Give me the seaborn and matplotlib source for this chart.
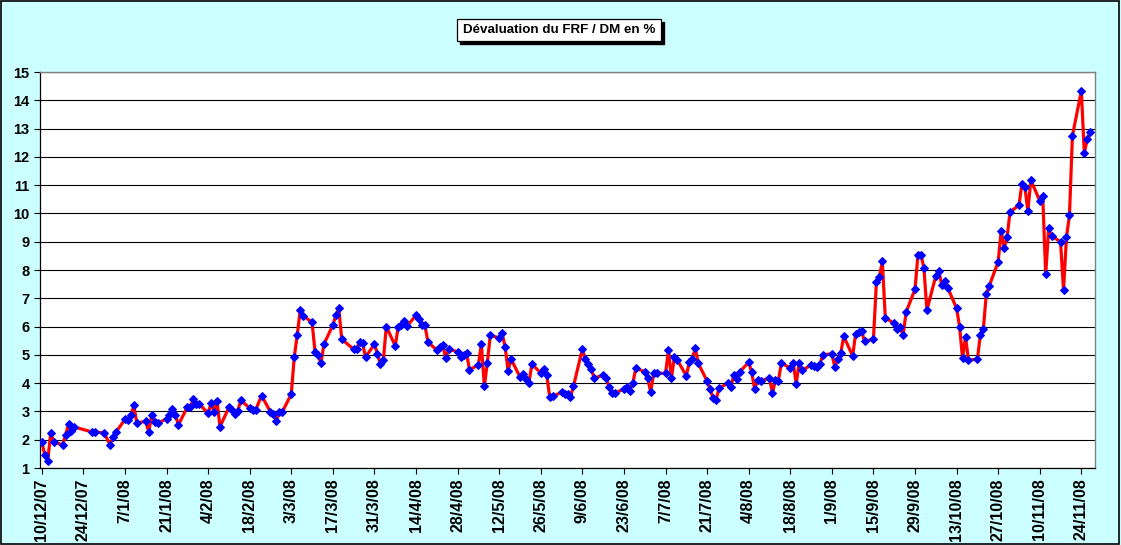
import matplotlib
matplotlib.use("Agg")
import numpy as np
import pandas as pd
import matplotlib.pyplot as plt
import seaborn as sns

start = pd.Timestamp("2007-12-10")

# days after 10/12/07 at which a quote was taken
day_offsets = [
    0, 1, 2, 3, 4, 7, 8, 9, 10, 11, 17, 18, 21, 23, 24, 25, 28, 29, 30, 31,
    32, 35, 36, 37, 38, 39, 42, 43, 44, 45, 46, 49, 50, 51, 52, 53, 56, 57, 58, 59,
    60, 63, 64, 65, 66, 67, 70, 71, 72, 74, 77, 78, 79, 80, 81, 84, 85, 86, 87, 88,
    91, 92, 93, 94, 95, 98, 99, 100, 101, 105, 106, 107, 108, 109, 112, 113, 114, 115, 116, 119,
    120, 121, 122, 123, 126, 127, 128, 129, 130, 133, 134, 135, 136, 137, 140, 141, 142, 143, 144, 147,
    148, 149, 150, 151, 154, 155, 156, 157, 158, 161, 162, 163, 164, 165, 168, 169, 170, 171, 172, 175,
    176, 177, 178, 179, 182, 183, 184, 185, 186, 189, 190, 191, 192, 193, 196, 197, 198, 199, 200, 203,
    204, 205, 206, 207, 210, 211, 212, 213, 214, 217, 218, 219, 220, 221, 224, 225, 226, 227, 228, 231,
    232, 233, 234, 235, 238, 239, 240, 241, 242, 245, 246, 247, 248, 249, 252, 253, 254, 255, 256, 259,
    260, 261, 262, 263, 266, 267, 268, 269, 270, 273, 274, 275, 276, 277, 280, 281, 282, 283, 284, 287,
    288, 289, 290, 291, 294, 295, 296, 297, 298, 301, 302, 303, 304, 305, 308, 309, 310, 311, 312, 315,
    316, 317, 318, 319, 322, 323, 324, 325, 326, 329, 330, 331, 332, 333, 336, 337, 338, 339, 340, 343,
    344, 345, 346, 347, 350, 351, 352, 353,
]

devaluation = [
    1.92, 1.47, 1.24, 2.24, 1.92, 1.82, 2.16, 2.55, 2.31, 2.45, 2.27, 2.27, 2.24, 1.82, 2.09, 2.27, 2.72, 2.69, 2.87, 3.21,
    2.59, 2.65, 2.28, 2.87, 2.62, 2.59, 2.73, 2.87, 3.08, 2.87, 2.53, 3.15, 3.15, 3.44, 3.28, 3.26, 2.94, 3.29, 2.98, 3.36,
    2.46, 3.14, 3.05, 2.92, 3.02, 3.39, 3.12, 3.05, 3.05, 3.56, 2.98, 2.91, 2.66, 2.99, 2.99, 3.61, 4.92, 5.69, 6.58, 6.38,
    6.15, 5.11, 4.98, 4.71, 5.38, 6.05, 6.40, 6.64, 5.55, 5.20, 5.20, 5.47, 5.41, 4.92, 5.38, 5.04, 4.67, 4.82, 6.00, 5.32,
    5.98, 6.06, 6.18, 6.02, 6.40, 6.26, 6.04, 6.04, 5.46, 5.16, 5.27, 5.35, 4.88, 5.20, 5.11, 4.92, 5.00, 5.08, 4.47, 4.65,
    5.38, 3.89, 4.71, 5.69, 5.60, 5.76, 5.28, 4.44, 4.85, 4.22, 4.32, 4.13, 4.00, 4.67, 4.36, 4.49, 4.29, 3.52, 3.54, 3.67,
    3.60, 3.62, 3.52, 3.89, 5.20, 4.85, 4.68, 4.49, 4.18, 4.28, 4.19, 3.86, 3.65, 3.65, 3.79, 3.86, 3.72, 4.00, 4.53, 4.40,
    4.18, 3.68, 4.35, 4.35, 4.35, 5.16, 4.18, 4.94, 4.81, 4.26, 4.74, 4.85, 5.24, 4.71, 4.07, 3.79, 3.48, 3.40, 3.82, 4.00,
    3.88, 4.28, 4.14, 4.40, 4.74, 4.39, 3.79, 4.11, 4.08, 4.18, 3.65, 4.11, 4.09, 4.71, 4.53, 4.71, 3.98, 4.71, 4.45, 4.64,
    4.59, 4.56, 4.68, 5.00, 5.04, 4.58, 4.86, 5.06, 5.66, 4.96, 5.73, 5.80, 5.85, 5.48, 5.55, 7.57, 7.75, 8.31, 6.31, 6.11,
    5.93, 5.98, 5.70, 6.51, 7.32, 8.54, 8.54, 8.07, 6.58, 7.79, 7.98, 7.46, 7.60, 7.38, 6.64, 6.00, 4.88, 5.64, 4.81, 4.85,
    5.70, 5.91, 7.15, 7.44, 8.29, 9.38, 8.77, 9.16, 10.05, 10.29, 11.04, 10.93, 10.08, 11.18, 10.45, 10.61, 7.85, 9.47, 9.21, 8.99,
    7.29, 9.16, 9.94, 12.75, 14.33, 12.13, 12.63, 12.89,
]

title = "Dévaluation du FRF / DM en %"
y_ticks = list(range(1, 16))
x_ticks = pd.date_range(start, "2008-11-24", freq="14D")
x_ticklabels = [f"{d.day}/{d.month}/{d.strftime('%y')}" for d in x_ticks]

df = pd.DataFrame({
    "date": start + pd.to_timedelta(day_offsets, unit="D"),
    "devaluation": devaluation,
})

bg = "#CCFFFF"
plt.rcParams["font.family"] = ["Liberation Sans Narrow", "Liberation Sans", "DejaVu Sans"]
plt.rcParams["font.weight"] = "bold"

fig = plt.figure(figsize=(11.21, 5.45), dpi=100, facecolor=bg)
ax = fig.add_axes([40 / 1121, 1 - 468 / 545, 1055 / 1121, 396 / 545])
ax.set_facecolor("white")

sns.lineplot(data=df, x="date", y="devaluation", ax=ax, color="#FF0000", linewidth=2.3,
             marker="D", markersize=4.2, markerfacecolor="#0000FF", markeredgecolor="#0000FF",
             zorder=3)

ax.set_ylim(1, 15)
ax.set_yticks(y_ticks)
ax.set_xlim(start - pd.Timedelta(days=0.6), start + pd.Timedelta(days=354.6))
ax.set_xticks(x_ticks)
ax.set_xticklabels(x_ticklabels, rotation=90, fontweight="bold", fontsize=11.5)
ax.grid(axis="y", color="black", linewidth=0.8)
ax.grid(axis="x", visible=False)
ax.set_axisbelow(True)
ax.set_xlabel("")
ax.set_ylabel("")

for s in ["top", "right"]:
    ax.spines[s].set_color("#808080")
    ax.spines[s].set_linewidth(1.0)
for s in ["left", "bottom"]:
    ax.spines[s].set_color("black")
    ax.spines[s].set_linewidth(0.9)

ax.tick_params(axis="both", direction="out", length=4, width=0.8, color="black",
               labelcolor="black")
ax.tick_params(axis="y", labelsize=10.5)
plt.setp(ax.get_yticklabels(), fontweight="bold")

# title box, then a drop shadow drawn behind it
t = fig.text(559 / 1121, 1 - 30 / 545, title, ha="center", va="center",
             fontsize=9.6, fontweight="bold", color="black", zorder=5,
             bbox=dict(boxstyle="square,pad=0.4", facecolor="white", edgecolor="black", linewidth=0.9))
fig.canvas.draw()
bb = t.get_bbox_patch().get_window_extent()
fig.patches.append(plt.Rectangle((bb.x0 + 3, bb.y0 - 3), bb.width, bb.height, transform=None,
                                 facecolor="black", edgecolor="black", zorder=4))

fig.patches.append(plt.Rectangle((0.0005, 0.001), 0.998, 0.997, transform=fig.transFigure,
                                 fill=False, edgecolor="black", linewidth=1.2))

fig.savefig("out.png", dpi=100, facecolor=bg)
